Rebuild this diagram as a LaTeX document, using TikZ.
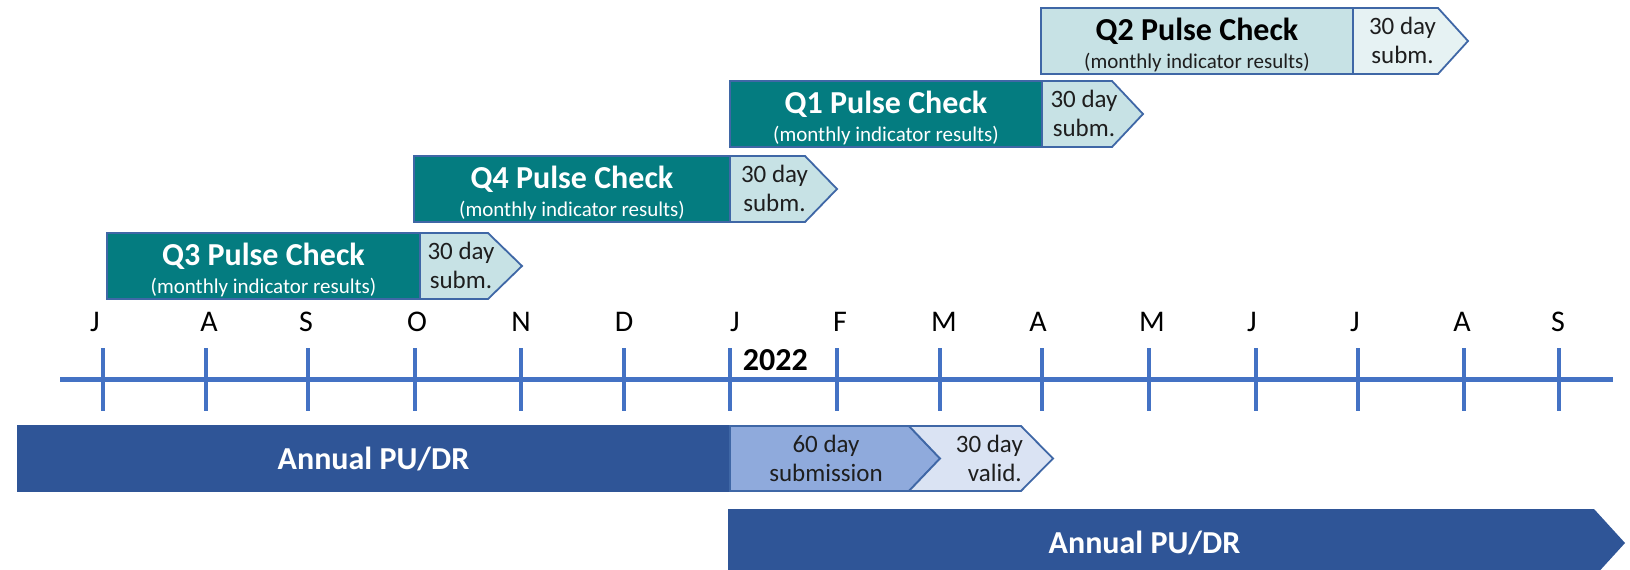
\documentclass[tikz,border=0pt]{standalone}
\usepackage{fontspec}
\setmainfont{Carlito}
\definecolor{qteal}{HTML}{047C80}
\definecolor{qlight}{HTML}{C7E2E5}
\definecolor{qpale}{HTML}{E6F2F3}
\definecolor{qedgec}{HTML}{3F67A6}
\definecolor{axisblue}{HTML}{4472C4}
\definecolor{annualblue}{HTML}{2F5597}
\definecolor{subblue}{HTML}{8FAADC}
\definecolor{validblue}{HTML}{DAE3F3}
\definecolor{inkdark}{HTML}{1E1E1E}
\tikzset{
  qedge/.style={draw=qedgec, line width=1.8pt, line join=miter},
  qmainA/.style={fill=qteal},
  qsubA/.style={fill=qlight},
  qtitleA/.style={text=white, font=\fontsize{32}{38}\selectfont\bfseries, inner sep=0pt},
  qsmallA/.style={text=white, font=\fontsize{21}{25}\selectfont, inner sep=0pt},
  qmainB/.style={fill=qlight},
  qsubB/.style={fill=qpale},
  qtitleB/.style={text=black, font=\fontsize{32}{38}\selectfont\bfseries, inner sep=0pt},
  qsmallB/.style={text=inkdark, font=\fontsize{21}{25}\selectfont, inner sep=0pt},
  daytext/.style={text=inkdark, font=\fontsize{25}{30}\selectfont, inner sep=0pt},
  monthtext/.style={text=black, font=\fontsize{30}{36}\selectfont, inner sep=0pt, anchor=base},
  bigwhite/.style={text=white, font=\fontsize{32}{38}\selectfont\bfseries, inner sep=0pt, anchor=base},
  axisline/.style={draw=axisblue, line width=5pt},
  tickline/.style={draw=axisblue, line width=4pt},
}
% quarterly pulse check bar: name, left, split, shoulder, tip, top, label, variant
\newcommand\pulsebox[8]{%
  \path[qmain#8] (#2,#6) rectangle (#3,#6+66);
  \path[qsub#8] (#3,#6) -- (#4,#6) -- (#5,#6+33) -- (#4,#6+66) -- (#3,#6+66) -- cycle;
  \draw[qedge] (#2,#6) -- (#4,#6) -- (#5,#6+33) -- (#4,#6+66) -- (#2,#6+66) -- cycle;
  \draw[qedge] (#3,#6) -- (#3,#6+66);
  \node[qtitle#8, anchor=base] (#1title) at ({(#2+#3)/2},#6+32.5) {#7 Pulse Check};
  \node[qsmall#8, anchor=base] (#1sub) at ({(#2+#3)/2},#6+60) {(monthly indicator results)};
  \node[daytext, anchor=base] (#1day) at ({(#3+#4)/2+7},#6+26) {30 day};
  \node[daytext, anchor=base] (#1subm) at ({(#3+#4)/2+7},#6+55) {subm.};
}
\begin{document}
\begin{tikzpicture}[x=1pt,y=-1pt]
\useasboundingbox (0,0) rectangle (1630,570);
\clip (0,0) rectangle (1630,570);

% quarterly pulse checks
\pulsebox{qthree}{107}{420}{488}{522}{233}{Q3}{A}
\pulsebox{qfour}{414}{730}{805}{837}{156}{Q4}{A}
\pulsebox{qone}{730}{1042}{1112}{1143}{81}{Q1}{A}
\pulsebox{qtwo}{1041}{1353}{1438}{1468}{8}{Q2}{B}

% timeline axis with monthly ticks
\draw[axisline] (60,379) -- (1613,379);
\foreach \tx in {103,206,308,415,521,624,730,836.5,940,1042,1149,1256,1358,1464,1559}
  \draw[tickline] (\tx,348) -- (\tx,411);
\foreach \mx/\ml [count=\mi] in {95/J,209/A,306/S,417/O,521/N,624/D,735/J,840/F,944/M,1038/A,1152/M,1252/J,1355/J,1462/A,1558/S}
  \node[monthtext] (month\mi) at (\mx,331) {\ml};
\node[anchor=base west, inner sep=0pt, font=\fontsize{32}{38}\selectfont\bfseries] (year) at (742.7,370) {2022};

% current annual cycle
\path[fill=annualblue] (17,425) rectangle (730,492);
\node[bigwhite] (annualA) at (373.5,469) {Annual PU/DR};
\draw[qedge, fill=subblue] (730,426) -- (909,426) -- (940,458.5) -- (909,491) -- (730,491) -- cycle;
\node[daytext, anchor=base] (sixtyday) at (826,452.7) {60 day};
\node[daytext, anchor=base] (sixtysub) at (826,481.7) {submission};
\draw[qedge, fill=validblue] (909,426) -- (1021,426) -- (1053,458.5) -- (1021,491) -- (909,491) -- (940,458.5) -- cycle;
\node[daytext, anchor=base east] (validday) at (1023,452.7) {30 day};
\node[daytext, anchor=base east] (validtxt) at (1022,481.7) {valid.};

% next annual cycle
\path[fill=annualblue] (728,509) -- (1594,509) -- (1625,543) -- (1594,577) -- (728,577) -- cycle;
\node[bigwhite] (annualB) at (1144.5,553) {Annual PU/DR};
\end{tikzpicture}
\end{document}
